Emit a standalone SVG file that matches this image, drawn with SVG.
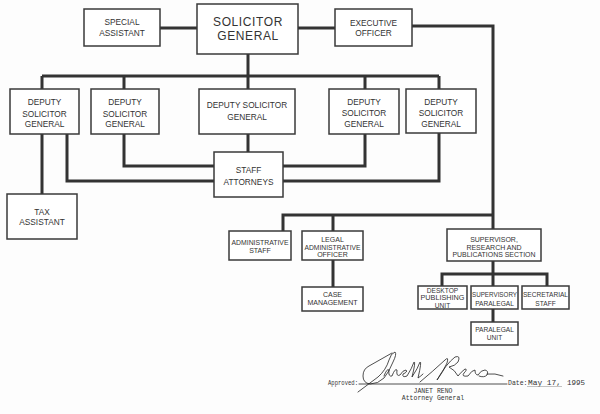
<svg xmlns="http://www.w3.org/2000/svg" width="600" height="414" viewBox="0 0 600 414">
<style>
.bg{fill:#fdfdfd}
.box{fill:#fff;stroke:#3a3a3a;stroke-width:1.5}
.t{font-family:"Liberation Sans",Arial,sans-serif;fill:#333;text-anchor:middle;font-size:8.3px}
.big{font-size:12px;letter-spacing:0.6px}
.s{font-size:7px}
.xs{font-size:6.6px}
.conn path{fill:none;stroke:#333;stroke-width:3}
.sig{fill:none;stroke:#222;stroke-width:0.8;stroke-linecap:round;stroke-linejoin:round}
.f{font-family:"Liberation Mono","DejaVu Sans Mono",monospace;fill:#333;font-size:6.5px}
</style>
<rect class="bg" x="0" y="0" width="600" height="414"/>
<g class="conn">
<path d="M160 28H197"/>
<path d="M298 28H335"/>
<path d="M412 26H493V229"/>
<path d="M248 54V89"/>
<path d="M42 76H439"/>
<path d="M42 76V89M124 76V89M365 76V89M439 76V89"/>
<path d="M248 134V152"/>
<path d="M124 134V166H214"/>
<path d="M67 134V181H214"/>
<path d="M42 134V194"/>
<path d="M365 134V166H283"/>
<path d="M439 133V181H283"/>
<path d="M283 231V215H493"/>
<path d="M333 215V231"/>
<path d="M333 260V287"/>
<path d="M493 261V286"/>
<path d="M442 286V274H547V286"/>
<path d="M493 309V322"/>
</g>
<g id="special-assistant"><rect class="box" x="84" y="9" width="76" height="37"/><text class="t" x="122" y="25">SPECIAL</text><text class="t" x="122" y="36">ASSISTANT</text></g>
<g id="solicitor-general"><rect class="box" x="197" y="4" width="101" height="50"/><text class="t big" x="248" y="25.5">SOLICITOR</text><text class="t big" x="248" y="39.5">GENERAL</text></g>
<g id="executive-officer"><rect class="box" x="335" y="9" width="77" height="37"/><text class="t" x="373.5" y="26">EXECUTIVE</text><text class="t" x="373.5" y="36">OFFICER</text></g>
<g id="dsg1"><rect class="box" x="10" y="89" width="69" height="45"/><text class="t" x="44.5" y="105">DEPUTY</text><text class="t" x="44.5" y="116.5">SOLICITOR</text><text class="t" x="44.5" y="127">GENERAL</text></g>
<g id="dsg2"><rect class="box" x="91" y="89" width="68" height="45"/><text class="t" x="125" y="105">DEPUTY</text><text class="t" x="125" y="116.5">SOLICITOR</text><text class="t" x="125" y="127">GENERAL</text></g>
<g id="dsg3"><rect class="box" x="199" y="89" width="96" height="45"/><text class="t" x="247" y="108">DEPUTY SOLICITOR</text><text class="t" x="247" y="120">GENERAL</text></g>
<g id="dsg4"><rect class="box" x="329" y="89" width="70" height="45"/><text class="t" x="364" y="105">DEPUTY</text><text class="t" x="364" y="116">SOLICITOR</text><text class="t" x="364" y="126.5">GENERAL</text></g>
<g id="dsg5"><rect class="box" x="406" y="89" width="70" height="44"/><text class="t" x="441" y="105">DEPUTY</text><text class="t" x="441" y="116">SOLICITOR</text><text class="t" x="441" y="126.5">GENERAL</text></g>
<g id="staff-attorneys"><rect class="box" x="214" y="152" width="69" height="45"/><text class="t" x="248.5" y="173">STAFF</text><text class="t" x="248.5" y="185">ATTORNEYS</text></g>
<g id="tax-assistant"><rect class="box" x="7" y="194" width="70" height="45"/><text class="t" x="42" y="215">TAX</text><text class="t" x="42" y="225">ASSISTANT</text></g>
<g id="administrative-staff"><rect class="box" x="229" y="231" width="62" height="29"/><text class="t s" x="260" y="244.5" textLength="57" lengthAdjust="spacingAndGlyphs">ADMINISTRATIVE</text><text class="t s" x="260" y="252.5">STAFF</text></g>
<g id="legal-administrative-officer"><rect class="box" x="302" y="231" width="61" height="29"/><text class="t s" x="332.5" y="241.5">LEGAL</text><text class="t s" x="332.5" y="249.5" textLength="56" lengthAdjust="spacingAndGlyphs">ADMINISTRATIVE</text><text class="t s" x="332.5" y="257">OFFICER</text></g>
<g id="case-management"><rect class="box" x="302" y="287" width="61" height="24"/><text class="t s" x="332.5" y="296.5">CASE</text><text class="t s" x="332.5" y="304.5">MANAGEMENT</text></g>
<g id="supervisor"><rect class="box" x="447" y="229" width="94" height="32"/><text class="t s" x="494" y="241.5">SUPERVISOR,</text><text class="t s" x="494" y="249.5">RESEARCH AND</text><text class="t s" x="494" y="257" textLength="83" lengthAdjust="spacingAndGlyphs">PUBLICATIONS SECTION</text></g>
<g id="desktop-publishing"><rect class="box" x="418" y="286" width="49" height="23"/><text class="t xs" x="442.5" y="292.5">DESKTOP</text><text class="t xs" x="442.5" y="300" textLength="44" lengthAdjust="spacingAndGlyphs">PUBLISHING</text><text class="t xs" x="442.5" y="307.5">UNIT</text></g>
<g id="supervisory-paralegal"><rect class="box" x="471" y="286" width="47" height="23"/><text class="t xs" x="494.5" y="296.5" textLength="45" lengthAdjust="spacingAndGlyphs">SUPERVISORY</text><text class="t xs" x="494.5" y="305.5">PARALEGAL</text></g>
<g id="secretarial-staff"><rect class="box" x="522" y="286" width="47" height="23"/><text class="t xs" x="545.5" y="296.5" textLength="45" lengthAdjust="spacingAndGlyphs">SECRETARIAL</text><text class="t xs" x="545.5" y="305.5">STAFF</text></g>
<g id="paralegal-unit"><rect class="box" x="471" y="322" width="47" height="23"/><text class="t xs" x="494.5" y="331.5">PARALEGAL</text><text class="t xs" x="494.5" y="340">UNIT</text></g>
<g id="approval">
<text class="f" x="328" y="385" font-size="5.5px" textLength="30" lengthAdjust="spacingAndGlyphs">Approved:</text>
<path class="sig" d="M359 384H507"/>
<path class="sig" d="M358 392L378 377Q386 370 389 360Q391 353 395 352Q397 354 393 362Q389 372 384 378Q378 384 370 384Q363 383 363 376Q363 369 369 366L392 353"/>
<path class="sig" d="M384 376Q387 368 389 370Q388 377 392 376Q395 368 397 370Q396 377 400 375Q403 370 406 370Q408 372 403 374Q402 378 407 376Q412 368 414 362Q416 361 412 377Q418 368 420 362Q422 361 418 378Q421 376 423 374"/>
<path class="sig" d="M420 382Q432 372 445 360Q449 356 447 363Q443 372 437 380Q446 364 455 357Q461 355 458 362Q455 366 449 367Q455 370 458 376Q461 372 465 369Q468 369 464 373Q461 377 468 376Q472 370 475 370Q475 375 478 375Q481 370 485 370Q489 371 487 375Q484 378 479 376M487 374Q495 373 503 376"/>
<text class="f" x="508" y="385" font-size="5px">Date:</text>
<text class="f" x="528" y="385" font-size="7.5px" fill="#8a8a8a" textLength="33" lengthAdjust="spacingAndGlyphs">May 17,</text>
<path d="M527 386.5H562" stroke="#9a9a9a" stroke-width="0.6"/>
<text class="f" x="567" y="385" font-size="7.5px" fill="#9a9a9a" textLength="18" lengthAdjust="spacingAndGlyphs">1995</text>
<text class="f" x="433" y="393" text-anchor="middle">JANET RENO</text>
<text class="f" x="433" y="399.5" text-anchor="middle">Attorney General</text>
</g>
</svg>
